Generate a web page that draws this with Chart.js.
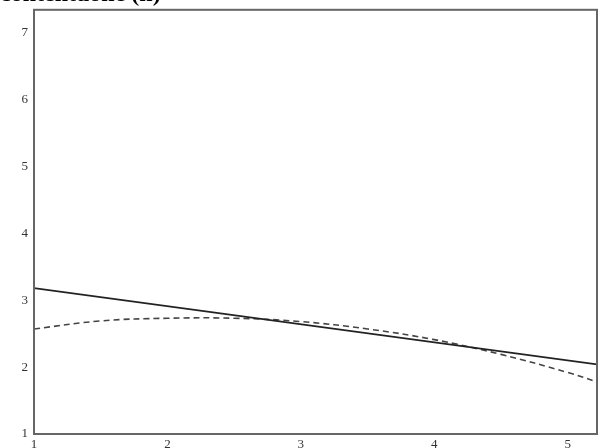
<!DOCTYPE html>
<html>
<head>
<meta charset="utf-8">
<script src="https://cdn.jsdelivr.net/npm/chart.js@4/dist/chart.umd.min.js"></script>
<style>
  html, body { margin: 0; padding: 0; background: #fff; overflow: hidden; }
  #wrap { width: 600px; height: 468px; margin-top: -20px; }
</style>
</head>
<body>
<div id="wrap"><canvas id="chartFit"></canvas></div>
<script>
// values
var titleText = "contentuone (n)";
var xPoints = [1, 1.5, 2, 2.5, 3, 3.5, 4, 4.5, 5, 5.22];
var dashedValues = [2.57, 2.69, 2.73, 2.73, 2.68, 2.57, 2.41, 2.19, 1.92, 1.78];
var solidX = [1, 5.22];
var solidValues = [3.18, 2.04];
var xTicks = [1, 2, 3, 4, 5];
var yTicks = [1, 2, 3, 4, 5, 6, 7];

function toPoints(xs, ys) {
  return xs.map(function (x, i) { return { x: x, y: ys[i] }; });
}

// box around the plot area
var frame = {
  id: 'frame',
  afterDraw: function (chart) {
    var a = chart.chartArea, c = chart.ctx;
    c.save();
    c.strokeStyle = '#666';
    c.lineWidth = 2;
    c.strokeRect(a.left, a.top, a.right - a.left, a.bottom - a.top);
    c.restore();
  }
};

var ctx = document.getElementById('chartFit').getContext('2d');
var chart = new Chart(ctx, {
  type: 'line',
  data: {
    datasets: [{
      label: 'fit',
      data: toPoints(solidX, solidValues),
      borderColor: '#222',
      borderWidth: 1.6,
      pointRadius: 0,
      fill: false
    }, {
      label: 'curve',
      data: toPoints(xPoints, dashedValues),
      borderColor: '#444',
      borderWidth: 1.6,
      borderDash: [6, 4],
      pointRadius: 0,
      tension: 0.4,
      fill: false
    }]
  },
  options: {
    responsive: true,
    maintainAspectRatio: false,
    animation: false,
    layout: { padding: { left: 0, right: 3, top: 0, bottom: 0 } },
    plugins: {
      legend: { display: false },
      tooltip: { enabled: false },
      title: {
        display: true,
        text: titleText,
        align: 'start',
        color: '#000',
        font: { family: 'Liberation Serif', size: 24, weight: 'bold' },
        padding: { top: 0, bottom: 1 }
      }
    },
    scales: {
      x: {
        type: 'linear',
        min: 1,
        max: 5.22,
        grid: { display: false, drawTicks: false },
        border: { display: false },
        afterBuildTicks: function (s) { s.ticks = xTicks.map(function (v) { return { value: v }; }); },
        afterFit: function (s) { s.height = 14; },
        ticks: {
          includeBounds: false,
          padding: 3,
          color: '#333',
          font: { family: 'Liberation Serif', size: 13 }
        }
      },
      y: {
        min: 1,
        max: 7.34,
        grid: { display: false, drawTicks: false },
        border: { display: false },
        afterBuildTicks: function (s) { s.ticks = yTicks.map(function (v) { return { value: v }; }); },
        afterFit: function (s) { s.width = 34; },
        ticks: {
          includeBounds: false,
          padding: 6,
          color: '#333',
          font: { family: 'Liberation Serif', size: 13 }
        }
      }
    }
  },
  plugins: [frame]
});
</script>
</body>
</html>
